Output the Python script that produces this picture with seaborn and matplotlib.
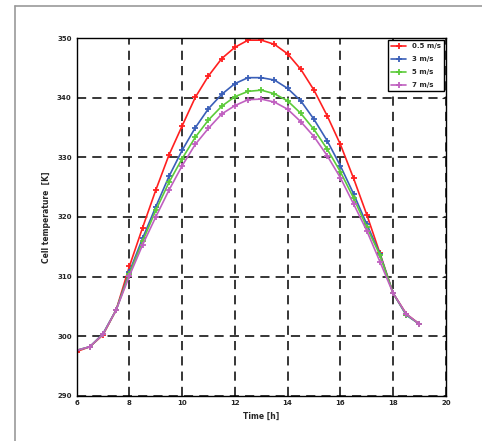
import pandas as pd
import matplotlib.pyplot as plt
import seaborn as sns
from matplotlib.lines import Line2D

# hours of the day, every half hour
hours = [6, 6.5, 7, 7.5, 8, 8.5, 9, 9.5, 10, 10.5, 11, 11.5, 12, 12.5,
         13, 13.5, 14, 14.5, 15, 15.5, 16, 16.5, 17, 17.5, 18, 18.5, 19]

t_05 = [297.4, 298.2, 300.2, 304.4, 311.7, 318.2, 324.5, 330.4, 335.3, 340.1,
        343.7, 346.6, 348.5, 349.7, 349.7, 349.0, 347.4, 344.8, 341.3, 337.0,
        332.2, 326.5, 320.4, 313.9, 307.2, 303.7, 302.0]
t_3 = [297.6, 298.2, 300.4, 304.4, 310.8, 316.4, 321.7, 326.8, 331.2, 335.0,
       338.2, 340.6, 342.4, 343.4, 343.4, 343.0, 341.6, 339.5, 336.4, 332.8,
       328.6, 323.9, 318.8, 313.8, 307.2, 303.5, 302.0]
t_5 = [297.6, 298.2, 300.3, 304.4, 310.5, 315.9, 321.1, 325.8, 329.8, 333.4,
       336.3, 338.6, 340.2, 341.1, 341.3, 340.7, 339.5, 337.4, 334.7, 331.4,
       327.6, 323.2, 318.3, 313.6, 307.2, 303.6, 302.0]
t_7 = [297.6, 298.2, 300.3, 304.4, 310.1, 315.3, 320.0, 324.5, 328.6, 332.2,
       334.9, 337.3, 338.7, 339.7, 339.8, 339.3, 338.1, 336.0, 333.5, 330.3,
       326.6, 322.2, 317.7, 312.5, 307.2, 303.7, 302.0]

labels = ["0.5 m/s", "3 m/s", "5 m/s", "7 m/s"]
colors = ["#ff2020", "#3a5fb8", "#5ccb3a", "#c060c0"]

sns.set_style("white")
fig = plt.figure(figsize=(4.82, 4.41), dpi=100)
ax = fig.add_axes([0.159, 0.103, 0.766, 0.81])

for lab, vals, c in zip(labels, [t_05, t_3, t_5, t_7], colors):
    df = pd.DataFrame({"Time": hours, "Temp": vals})
    sns.lineplot(data=df, x="Time", y="Temp", color=c, label=lab,
                 marker="+", markersize=5, markeredgewidth=1.3,
                 markeredgecolor=c, linewidth=1.2, ax=ax)

ax.set_xlim(6, 20)
ax.set_ylim(290, 350)
ax.set_xticks(range(6, 21, 2))
ax.set_yticks(range(290, 351, 10))
ax.grid(True, color="black", linestyle=(0, (6, 4)), linewidth=1.1)
ax.set_axisbelow(True)
for s in ax.spines.values():
    s.set_color("black")
    s.set_linewidth(1.0)
ax.tick_params(labelsize=5, direction="in", length=3, right=True, top=False)
for t in ax.get_xticklabels() + ax.get_yticklabels():
    t.set_fontweight("bold")
ax.set_xlabel("Time [h]", fontsize=5.5, fontweight="bold")
ax.set_ylabel("Cell temperature  [K]", fontsize=5.5, fontweight="bold")

leg = ax.legend(loc="upper right", frameon=True, fancybox=False,
                borderaxespad=0.3, handlelength=2.2, labelspacing=1.0,
                prop={"size": 5, "weight": "bold"})
leg.get_frame().set_edgecolor("black")
leg.get_frame().set_linewidth(1.0)
leg.get_frame().set_alpha(1)

# page border seen in the scan
fig.add_artist(Line2D([0.031, 0.031], [0.0, 0.986], color="#999999", lw=1.2))
fig.add_artist(Line2D([0.031, 1.0], [0.986, 0.986], color="#999999", lw=1.2))

fig.savefig("out.png", dpi=100)
